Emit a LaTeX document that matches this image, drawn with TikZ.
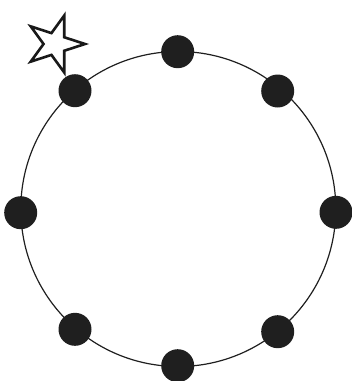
\documentclass[tikz,border=0pt]{standalone}
\usetikzlibrary{shapes.geometric}
\begin{document}
\begin{tikzpicture}[x=1pt,y=-1pt,
  dot/.style={circle,fill=black!88,draw=none,minimum size=33pt,inner sep=0pt},
  ring/.style={line width=1.2pt,draw=black!88},
  starshape/.style={star,star points=5,star point ratio=2.618,minimum size=60pt,inner sep=0pt,
    shape border rotate=-18,draw=black!90,line width=2.6pt}]
\useasboundingbox (0,0) rectangle (352,381);
\coordinate (c) at (178.3,209);
\draw[ring] (c) circle (157.5pt);
\node[dot] (n) at (177.7,51.7) {};
\node[dot] (ne) at (277.7,91) {};
\node[dot] (e) at (336,212.3) {};
\node[dot] (se) at (277.7,331.7) {};
\node[dot] (s) at (177.7,365.7) {};
\node[dot] (sw) at (75,329.3) {};
\node[dot] (w) at (20.7,212.7) {};
\node[dot] (nw) at (75,90.7) {};
\node[starshape] (st) at (55,44) {};
\end{tikzpicture}
\end{document}
